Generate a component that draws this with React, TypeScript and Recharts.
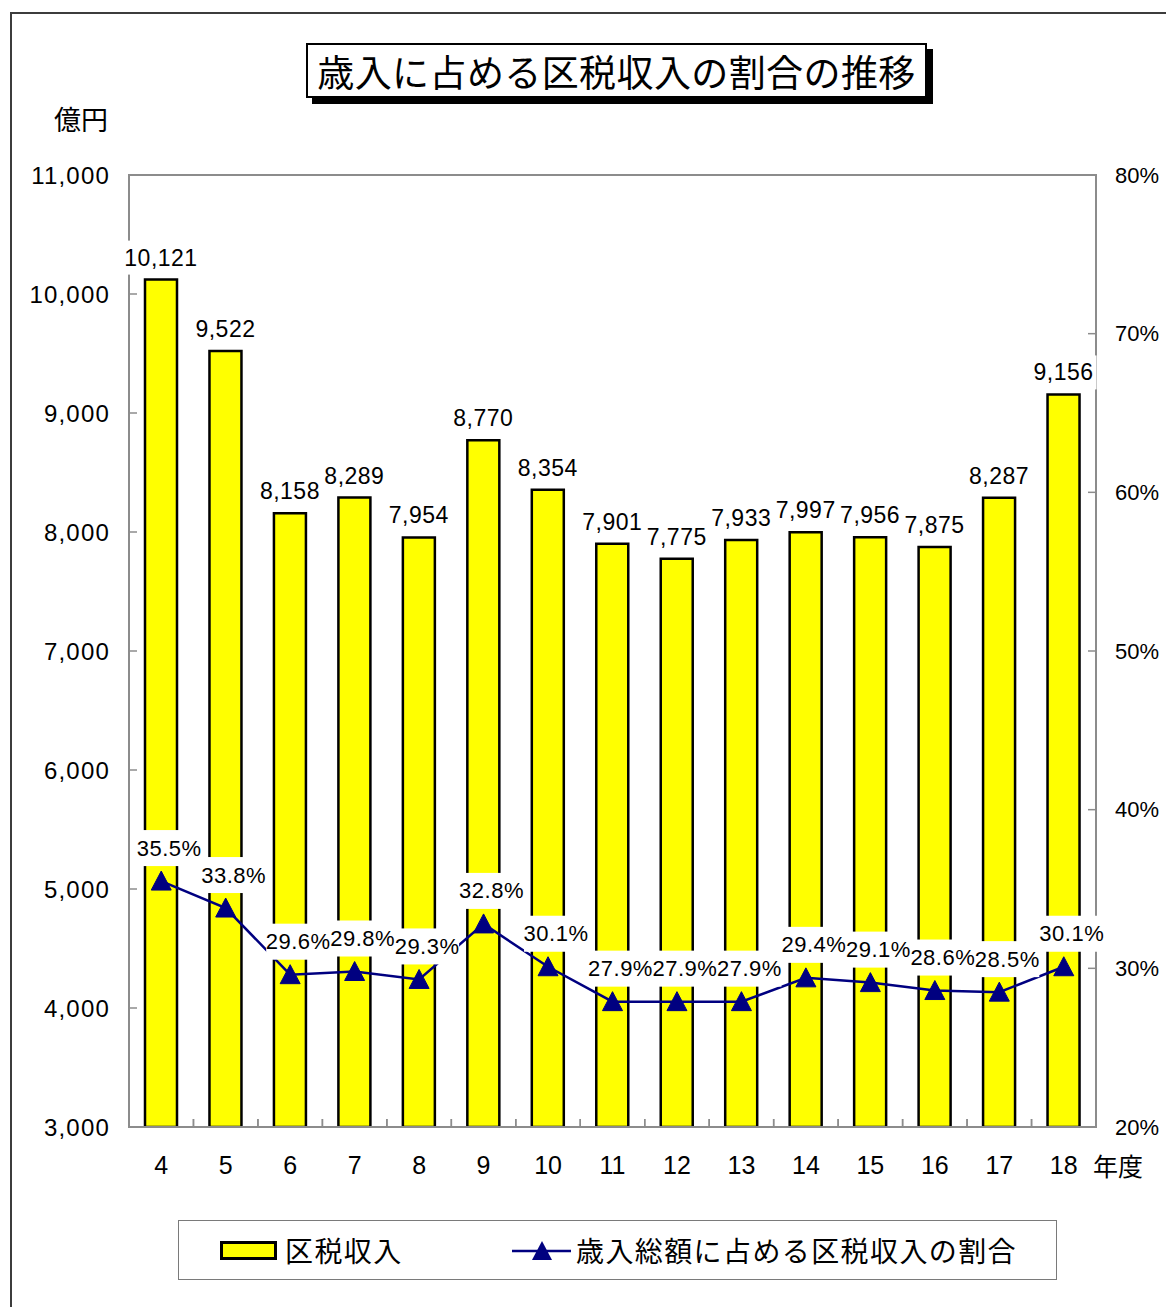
import React from 'react';
import {
  ComposedChart, Bar, Line, XAxis, YAxis, LabelList, ReferenceArea,
} from 'recharts';

const years = ['4', '5', '6', '7', '8', '9', '10', '11', '12', '13', '14', '15', '16', '17', '18'];
const taxRevenue = [10121, 9522, 8158, 8289, 7954, 8770, 8354, 7901, 7775, 7933, 7997, 7956, 7875, 8287, 9156];
const taxShare = [35.5, 33.8, 29.6, 29.8, 29.3, 32.8, 30.1, 27.9, 27.9, 27.9, 29.4, 29.1, 28.6, 28.5, 30.1];
const yenTicks = [3000, 4000, 5000, 6000, 7000, 8000, 9000, 10000, 11000];
const pctTicks = [20, 30, 40, 50, 60, 70, 80];

const data = years.map((year, i) => ({ year, revenue: taxRevenue[i], share: taxShare[i] }));

const W = 1166;
const H = 1307;
const PLOT_LEFT = 129;
const PLOT_RIGHT = 1096;
const PLOT_TOP = 175;
const PLOT_BOTTOM = 1127;
const BAND = (PLOT_RIGHT - PLOT_LEFT) / years.length;

const NUM_FONT = '"Liberation Sans", Arial, sans-serif';
const JP_FONT = '"Noto Sans CJK JP", "Noto Sans", sans-serif';
const AXIS_GRAY = '#8c8c8c';
const NAVY = '#000080';

const fmt = (v: number) => v.toLocaleString('en-US');

const LeftTick = ({ x, y, payload }: any) => (
  <g>
    <line x1={x} x2={x + 8} y1={y} y2={y} stroke={AXIS_GRAY} strokeWidth={1.5} />
    <text x={x - 19} y={y} textAnchor="end" dominantBaseline="central"
      fontFamily={NUM_FONT} fontSize={24} letterSpacing={1.2} fill="#000">
      {fmt(payload.value)}
    </text>
  </g>
);

const RightTick = ({ x, y, payload }: any) => (
  <g>
    <line x1={x - 8} x2={x} y1={y} y2={y} stroke={AXIS_GRAY} strokeWidth={1.5} />
    <text x={x + 19} y={y} textAnchor="start" dominantBaseline="central"
      fontFamily={NUM_FONT} fontSize={22} fill="#000">
      {`${payload.value}%`}
    </text>
  </g>
);

const BottomTick = ({ x, y, payload, index }: any) => (
  <g>
    {index > 0 && (
      <line x1={x - BAND / 2} x2={x - BAND / 2} y1={y} y2={y - 8} stroke={AXIS_GRAY} strokeWidth={1.5} />
    )}
    <line x1={x + BAND / 2} x2={x + BAND / 2} y1={y} y2={y - 8} stroke={AXIS_GRAY} strokeWidth={1.5} />
    <text x={x} y={y + 38} textAnchor="middle" dominantBaseline="central"
      fontFamily={NUM_FONT} fontSize={25} fill="#000">
      {payload.value}
    </text>
  </g>
);

const BarValueLabel = (props: any) => {
  const { x, y, width, value } = props;
  const text = fmt(value);
  const cx = x + width / 2;
  const cy = y - 22;
  const tw = text.length * 12.4 + 4;
  return (
    <g>
      <rect x={cx - tw / 2} y={cy - 17} width={tw} height={34} fill="#fff" />
      <text x={cx} y={cy} textAnchor="middle" dominantBaseline="central"
        fontFamily={NUM_FONT} fontSize={23} letterSpacing={0.5} fill="#000">
        {text}
      </text>
    </g>
  );
};

const ShareLabel = (props: any) => {
  const { x, y, value } = props;
  const text = `${value.toFixed(1)}%`;
  const cx = x + 8;
  const cy = y - 33;
  const tw = 64;
  return (
    <g>
      <rect x={cx - tw / 2} y={cy - 18} width={tw} height={36} fill="#fff" />
      <text x={cx} y={cy} textAnchor="middle" dominantBaseline="central"
        fontFamily={NUM_FONT} fontSize={22} letterSpacing={0.5} fill="#000">
        {text}
      </text>
    </g>
  );
};

const TriangleDot = (props: any) => {
  const { cx, cy } = props;
  if (cx == null || cy == null) return null;
  return (
    <path d={`M${cx},${cy - 10} L${cx + 10},${cy + 9} L${cx - 10},${cy + 9} Z`} fill={NAVY} stroke={NAVY} strokeWidth={1} />
  );
};

export default function App() {
  return (
    <div style={{ position: 'absolute', left: 0, top: 0, width: W, height: H, overflow: 'hidden', background: '#fff' }}>
      {/* outer chart frame */}
      <div style={{
        position: 'absolute', left: 10, top: 12, width: W - 10, height: H - 12,
        borderLeft: '2px solid #3c3c3c', borderTop: '2px solid #3c3c3c', boxSizing: 'border-box',
      }} />

      {/* title */}
      <div style={{
        position: 'absolute', left: 306, top: 43, width: 621, height: 55, boxSizing: 'border-box',
        border: '2px solid #000', background: '#fff', boxShadow: '6px 6px 0 #000',
        display: 'flex', alignItems: 'center', justifyContent: 'center',
        fontFamily: JP_FONT, fontSize: 37, letterSpacing: 0.4, color: '#000', whiteSpace: 'nowrap',
      }}>
        歳入に占める区税収入の割合の推移
      </div>

      <div style={{ position: 'absolute', left: 54, top: 102, fontFamily: JP_FONT, fontSize: 27, lineHeight: '34px', color: '#000' }}>
        億円
      </div>
      <div style={{ position: 'absolute', left: 1093, top: 1148, fontFamily: JP_FONT, fontSize: 25, lineHeight: '34px', color: '#000' }}>
        年度
      </div>

      <div style={{ position: 'absolute', left: 0, top: 0 }}>
        <ComposedChart width={W} height={H} data={data}
          margin={{ top: PLOT_TOP, right: 0, bottom: 0, left: 0 }}>
          <ReferenceArea yAxisId="yen" y1={3000} y2={11000} fill="none" stroke={AXIS_GRAY} strokeWidth={2} ifOverflow="visible" />
          <XAxis dataKey="year" height={H - PLOT_BOTTOM} axisLine={{ stroke: AXIS_GRAY, strokeWidth: 2 }}
            tickLine={false} tickSize={0} tickMargin={0} interval={0} tick={<BottomTick />} />
          <YAxis yAxisId="yen" orientation="left" width={PLOT_LEFT} domain={[3000, 11000]} ticks={yenTicks}
            allowDataOverflow axisLine={{ stroke: AXIS_GRAY, strokeWidth: 2 }} tickLine={false}
            tickSize={0} tickMargin={0} interval={0} tick={<LeftTick />} />
          <YAxis yAxisId="pct" orientation="right" width={W - PLOT_RIGHT} domain={[20, 80]} ticks={pctTicks}
            allowDataOverflow axisLine={{ stroke: AXIS_GRAY, strokeWidth: 2 }} tickLine={false}
            tickSize={0} tickMargin={0} interval={0} tick={<RightTick />} />
          <Bar yAxisId="yen" dataKey="revenue" barSize={32} fill="#ffff00" stroke="#000" strokeWidth={2.5}
            isAnimationActive={false}>
            <LabelList dataKey="revenue" content={<BarValueLabel />} />
          </Bar>
          <Line yAxisId="pct" dataKey="share" type="linear" stroke={NAVY} strokeWidth={2.5}
            dot={<TriangleDot />} activeDot={false} isAnimationActive={false}>
            <LabelList dataKey="share" content={<ShareLabel />} />
          </Line>
        </ComposedChart>
      </div>

      {/* legend */}
      <div style={{
        position: 'absolute', left: 178, top: 1220, width: 879, height: 60, boxSizing: 'border-box',
        border: '1.5px solid #7a7a7a', background: '#fff',
      }}>
        <div style={{ position: 'absolute', left: 41, top: 20, width: 57, height: 19, boxSizing: 'border-box', background: '#ffff00', border: '3px solid #000' }} />
        <div style={{ position: 'absolute', left: 106, top: 11, fontFamily: JP_FONT, fontSize: 28, letterSpacing: 1.4, lineHeight: '36px', color: '#000' }}>
          区税収入
        </div>
        <svg style={{ position: 'absolute', left: 332, top: 18 }} width={62} height={24}>
          <line x1={1} x2={60} y1={12} y2={12} stroke={NAVY} strokeWidth={2.5} />
          <path d="M31,2 L41,21 L21,21 Z" fill={NAVY} />
        </svg>
        <div style={{ position: 'absolute', left: 397, top: 11, fontFamily: JP_FONT, fontSize: 28, letterSpacing: 1.4, lineHeight: '36px', color: '#000', whiteSpace: 'nowrap' }}>
          歳入総額に占める区税収入の割合
        </div>
      </div>
    </div>
  );
}
